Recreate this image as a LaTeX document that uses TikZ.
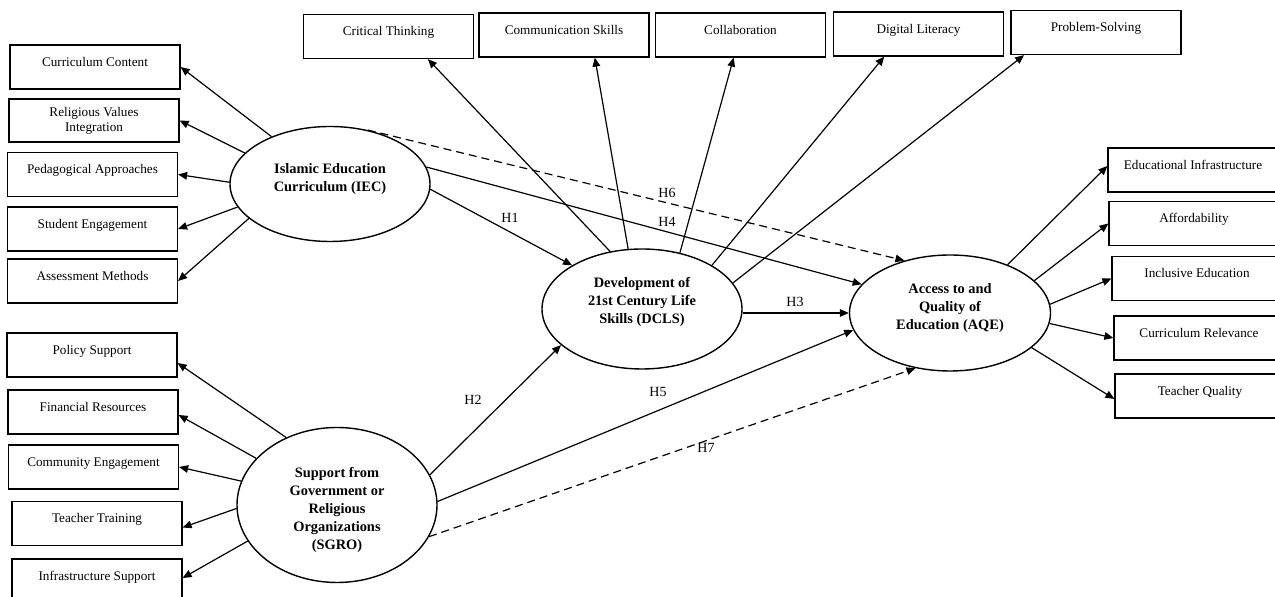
\documentclass[tikz,border=0pt]{standalone}
\usepackage{fontspec}
\setmainfont{Liberation Serif}
\usetikzlibrary{shapes.geometric, arrows.meta, calc}
\newcommand\shiftbox[3]{\raisebox{0pt}[\dimexpr\height+#1\relax][\dimexpr\depth+#2\relax]{\begin{tabular}{@{}c@{}}#3\end{tabular}}}
\begin{document}
\begin{tikzpicture}[x=0.5pt, y=-0.5pt,
  box/.style={draw, line width=0.6pt, minimum width=85pt, minimum height=22pt, inner sep=0pt, text height=5pt, text depth=5.6pt, font=\fontsize{6.6}{7.5}\selectfont},
  boxtwo/.style={draw, line width=0.6pt, minimum width=85pt, minimum height=21.5pt, inner sep=0pt, align=center, font=\fontsize{6.6}{7.5}\selectfont},
  latent/.style={ellipse, draw, line width=0.7pt, inner sep=0pt, font=\bfseries\fontsize{7.2}{9}\selectfont},
  arr/.style={-{Triangle[length=4.5pt,width=3.8pt]}, line width=0.6pt},
  darr/.style={arr, dash pattern=on 4pt off 2.5pt},
  hl/.style={font=\fontsize{7}{8}\selectfont, inner sep=0pt}]
\useasboundingbox (0,0) rectangle (1275,597);

% left indicator boxes (IEC)
\node[box] (cc) at (95,67) {Curriculum Content};
\node[boxtwo] (rvi) at (94,120.5) {Religious Values\\Integration};
\node[box] (pa) at (92.5,174.5) {Pedagogical Approaches};
\node[box] (se) at (92.5,229) {Student Engagement};
\node[box] (am) at (92.5,281) {Assessment Methods};
% left indicator boxes (SGRO)
\node[box] (pol) at (92,355) {Policy Support};
\node[box] (fr) at (93,412) {Financial Resources};
\node[box] (ce) at (93.5,467) {Community Engagement};
\node[box] (tt) at (97,523.5) {Teacher Training};
\node[box] (isup) at (97,581) {Infrastructure Support};
% top boxes (DCLS)
\node[box] (ct) at (388.5,36.5) {Critical Thinking};
\node[box] (cs) at (564,35) {Communication Skills};
\node[box] (col) at (740.5,35) {Collaboration};
\node[box] (dl) at (918.5,34) {Digital Literacy};
\node[box] (ps) at (1096,32.5) {Problem-Solving};
% right boxes (AQE)
\node[box] (edi) at (1193,170) {Educational Infrastructure};
\node[box] (aff) at (1194,223.5) {Affordability};
\node[box] (ie) at (1197,278.5) {Inclusive Education};
\node[box] (cr) at (1199,338) {Curriculum Relevance};
\node[box] (tq) at (1200,396) {Teacher Quality};

% latent constructs
\node[latent, minimum width=100pt, minimum height=57.5pt] (iec) at (330,184) {\shiftbox{0pt}{5pt}{Islamic Education\\Curriculum (IEC)}};
\node[latent, minimum width=100pt, minimum height=77.5pt] (sgro) at (337,505) {\shiftbox{5pt}{0pt}{Support from\\Government or\\Religious\\Organizations\\(SGRO)}};
\node[latent, minimum width=100pt, minimum height=60pt] (dcls) at (642,309) {\shiftbox{0pt}{7pt}{Development of\\21st Century Life\\Skills (DCLS)}};
\node[latent, minimum width=100.5pt, minimum height=58pt] (aqe) at (950,313) {\shiftbox{0pt}{5pt}{Access to and\\Quality of\\Education (AQE)}};

% IEC indicators
\draw[arr] (iec.141) -- (cc.east);
\draw[arr] (iec.160) -- (rvi.east);
\draw[arr] (iec.179) -- (pa.east);
\draw[arr] (iec.194) -- (se.east);
\draw[arr] (iec.203) -- (am.east);
% SGRO indicators
\draw[arr] (sgro.127) -- ($(pol.east)+(0,8)$);
\draw[arr] (sgro.150) -- ($(fr.east)+(0,3)$);
\draw[arr] (sgro.166) -- (ce.east);
\draw[arr] (sgro.182) -- ($(tt.east)+(0,4)$);
\draw[arr] (sgro.202) -- ($(isup.east)+(0,-3)$);
% DCLS indicators
\draw[arr] (dcls.119) -- ($(ct.south west)!0.73!(ct.south east)$);
\draw[arr] (dcls.103) -- ($(cs.south west)!0.68!(cs.south east)$);
\draw[arr] (dcls.56) -- ($(col.south west)!0.46!(col.south east)$);
\draw[arr] (dcls.32) -- ($(dl.south west)!0.30!(dl.south east)$);
\draw[arr] (dcls.16) -- ($(ps.south west)!0.08!(ps.south east)$);
% AQE indicators
\draw[arr] (aqe.40) -- ($(edi.west)+(0,-4)$);
\draw[arr] (aqe.21) -- (aff.west);
\draw[arr] (aqe.5) -- (ie.west);
\draw[arr] (aqe.-6) -- (cr.west);
\draw[arr] (aqe.-23) -- ($(tq.west)+(0,3)$);

% structural paths
\draw[arr] (iec.-3) -- (dcls.148);
\draw[arr] (iec.10) -- (aqe.162);
\draw[darr] (iec.55) -- (aqe.131);
\draw[arr] (aqe.west -| dcls.east) -- (aqe.west);
\draw[arr] (sgro.18) -- (dcls.204);
\draw[arr] (sgro.2) -- (aqe.190);
\draw[darr] (sgro.-19) -- (aqe.238);

% hypothesis labels
\node[hl] (h1) at (510,218) {H1};
\node[hl] (h2) at (473,400) {H2};
\node[hl] (h3) at (795,302) {H3};
\node[hl] (h4) at (667,222) {H4};
\node[hl] (h5) at (658,392) {H5};
\node[hl] (h6) at (667,193) {H6};
\node[hl] (h7) at (706,448) {H7};
\end{tikzpicture}
\end{document}
